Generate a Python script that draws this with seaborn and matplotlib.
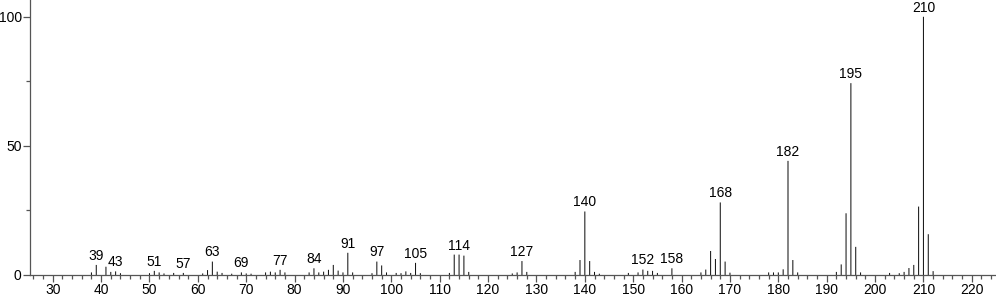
import matplotlib
matplotlib.use("Agg")
import matplotlib.pyplot as plt
import seaborn as sns
import pandas as pd
from matplotlib.ticker import MultipleLocator

mz = [38, 39, 41, 42, 43, 44,
      50, 51, 52, 53, 55, 57,
      61, 62, 63, 64, 65, 67, 69, 70, 71,
      74, 75, 76, 77, 78,
      83, 84, 85, 86, 87, 88, 89, 90, 91, 92,
      96, 97, 98, 99, 101, 102, 103, 104, 105, 106,
      112, 113, 114, 115, 116,
      125, 126, 127, 128,
      138, 139, 140, 141, 142, 143,
      149, 151, 152, 153, 154, 155, 158,
      164, 165, 166, 167, 168, 169, 170,
      178, 179, 180, 181, 182, 183, 184,
      192, 193, 194, 195, 196, 197,
      203, 205, 206, 207, 208, 209, 210, 211, 212]
intensity = [1.0, 3.9, 3.2, 1.2, 1.4, 0.7,
             0.7, 1.6, 1.0, 0.6, 0.8, 0.8,
             0.6, 1.9, 5.2, 1.3, 0.8, 0.5, 1.0, 0.6, 0.5,
             1.0, 1.3, 1.0, 2.0, 1.0,
             1.0, 2.6, 1.0, 1.3, 2.0, 3.9, 1.7, 1.0, 8.6, 1.0,
             0.7, 5.2, 3.7, 1.0, 0.8, 0.7, 1.4, 0.8, 4.7, 0.7,
             0.8, 7.9, 7.9, 7.5, 1.2,
             0.6, 1.0, 5.4, 1.2,
             1.2, 5.8, 24.6, 5.4, 1.2, 0.5,
             0.8, 1.0, 2.1, 1.6, 1.6, 0.8, 2.6,
             1.0, 2.1, 9.3, 6.2, 28.1, 5.2, 0.9,
             1.0, 1.0, 1.0, 2.2, 44.2, 5.8, 1.0,
             1.2, 4.1, 23.9, 74.3, 10.9, 1.0,
             0.8, 0.7, 1.2, 2.7, 3.9, 26.5, 100.0, 15.8, 1.5]

labeled = [39, 43, 51, 57, 63, 69, 77, 84, 91, 97, 105, 114,
           127, 140, 152, 158, 168, 182, 195, 210]

df = pd.DataFrame({"mz": mz, "intensity": intensity})

sns.set_style("white")
plt.rcParams['font.family'] = ['Liberation Sans', 'DejaVu Sans']

fig = plt.figure(figsize=(9.96, 2.99), dpi=100)
ax = fig.add_axes([30 / 996, 24 / 299, 966 / 996, 275 / 299])

sns.barplot(data=df, x="mz", y="intensity", native_scale=True, width=0.21,
            color="#111111", saturation=1, linewidth=0, ax=ax)
for p in ax.patches:
    p.set_snap(False)
    p.set_antialiased(True)

lookup = dict(zip(mz, intensity))
for m in labeled:
    ax.annotate(str(m), xy=(m, lookup[m]), xytext=(0, 1.5),
                textcoords="offset points", ha="center", va="bottom",
                fontsize=10, color="black")

ax.set_xlim(25.3, 225)
ax.set_ylim(0, 106.5)
ax.set_xlabel("")
ax.set_ylabel("")

ax.xaxis.set_major_locator(MultipleLocator(10))
ax.xaxis.set_minor_locator(MultipleLocator(2))
ax.yaxis.set_major_locator(MultipleLocator(50))
ax.yaxis.set_minor_locator(MultipleLocator(25))

for s in ["top", "right"]:
    ax.spines[s].set_visible(False)
for s in ["left", "bottom"]:
    ax.spines[s].set_color("#555555")
    ax.spines[s].set_linewidth(0.9)

ax.tick_params(axis="both", which="major", direction="out", length=5,
               width=0.9, color="#555555", labelsize=10, labelcolor="black", pad=1)
ax.tick_params(axis="x", which="minor", direction="out", length=3,
               width=0.9, color="#555555")
ax.tick_params(axis="y", which="minor", direction="out", length=3,
               width=0.9, color="#555555")
ax.tick_params(axis="y", which="both", left=True)
ax.tick_params(axis="x", which="both", bottom=True)

fig.savefig("out.png", dpi=100)
